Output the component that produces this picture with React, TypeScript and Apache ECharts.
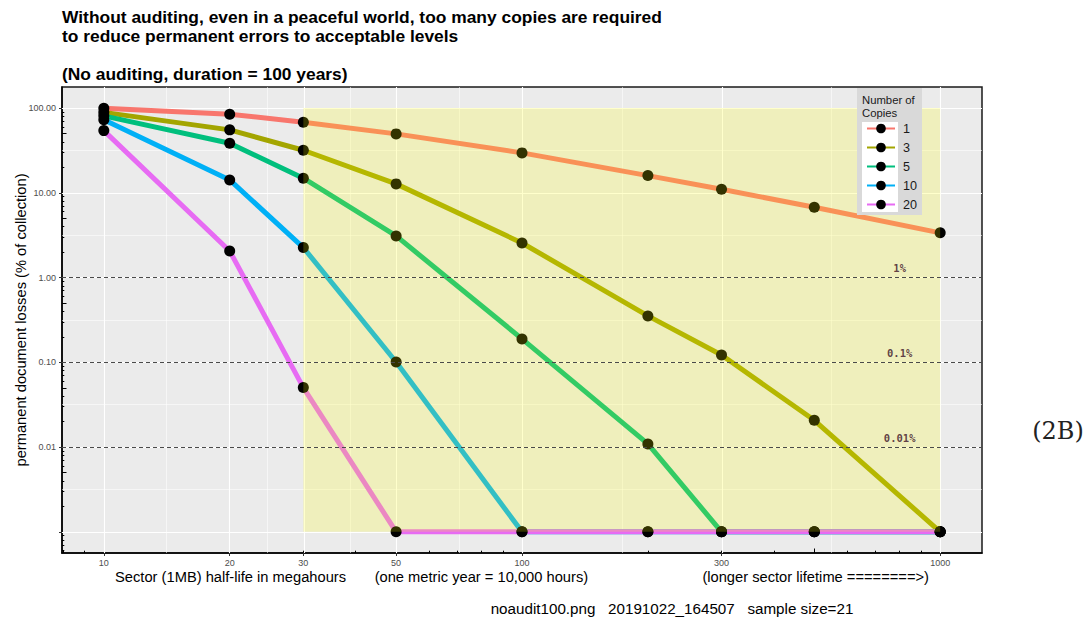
import React, { useEffect, useRef } from 'react';
import * as echarts from 'echarts';

// Sector half-life (megahours) and permanent losses (% of collection) per copy count
const halfLives = [10, 20, 30, 50, 100, 200, 300, 500, 1000];
const copyCounts = ['1', '3', '5', '10', '20'];
const lossCopies1 = [99.7, 84.7, 68.2, 49.6, 29.6, 15.97, 11.0, 6.77, 3.37];
const lossCopies3 = [89, 55.3, 31.8, 12.75, 2.56, 0.353, 0.122, 0.0207, 0.001];
const lossCopies5 = [81, 38.5, 14.9, 3.1, 0.189, 0.0109, 0.001, 0.001, 0.001];
const lossCopies10 = [72.6, 14.2, 2.26, 0.101, 0.001, 0.001, 0.001, 0.001, 0.001];
const lossCopies20 = [54.2, 2.06, 0.0503, 0.001, 0.001, 0.001, 0.001, 0.001, 0.001];
const copyColors = ['#F8766D', '#A3A500', '#00BF7D', '#00B0F6', '#E76BF3'];

// Axis breaks and labels
const xBreaks = [10, 20, 30, 50, 100, 300, 1000];
const yBreaks = [0.001, 0.01, 0.1, 1, 10, 100];
const yBreakLabels = ['', '0.01', '0.10', '1.00', '10.00', '100.00'];

// Reference levels and the shaded region
const thresholds = [1, 0.1, 0.01];
const thresholdLabels = ['1%', '0.1%', '0.01%'];
const thresholdLabelAt = 800;
const shadedHalfLife = [30, 1000];
const shadedLoss = [0.001, 100];

const lossSeries = [lossCopies1, lossCopies3, lossCopies5, lossCopies10, lossCopies20];

const FONT = '"Liberation Sans", Arial, sans-serif';
const lg = (v: number) => Math.log10(v);

function expandLog(values: number[], mult = 0.05): [number, number] {
  const logs = values.map(lg);
  const lo = Math.min(...logs);
  const hi = Math.max(...logs);
  const pad = (hi - lo) * mult;
  return [lo - pad, hi + pad];
}

function logTicks(lim: [number, number], mults: number[]) {
  const out: number[] = [];
  for (let d = Math.floor(lim[0]); d <= Math.ceil(lim[1]); d++) {
    for (const m of mults) {
      const v = d + lg(m);
      if (v >= lim[0] - 1e-9 && v <= lim[1] + 1e-9) out.push(v);
    }
  }
  return out;
}

function midpoints(breaks: number[]) {
  const logs = breaks.map(lg);
  const out: number[] = [];
  for (let i = 0; i < logs.length - 1; i++) out.push((logs[i] + logs[i + 1]) / 2);
  return out;
}

const xLim = expandLog(halfLives);
const yLim = expandLog(lossSeries.flat());

function tickAxis(kind: 'x' | 'y', lim: [number, number], values: number[], length: number) {
  return {
    type: 'value',
    gridIndex: 0,
    position: kind === 'x' ? 'bottom' : 'left',
    min: lim[0],
    max: lim[1],
    axisLine: { show: false, onZero: false },
    axisLabel: { show: false },
    splitLine: { show: false },
    axisTick: {
      show: true,
      inside: true,
      customValues: values,
      length,
      lineStyle: { color: '#000', width: 1 },
    },
  };
}

function buildOption() {
  const gridLines: any[] = [];
  xBreaks.forEach((b) => gridLines.push({ xAxis: lg(b), lineStyle: { color: '#fff', width: 1.1, type: 'solid' } }));
  midpoints(xBreaks).forEach((v) => gridLines.push({ xAxis: v, lineStyle: { color: '#fff', width: 0.55, type: 'solid' } }));
  yBreaks.forEach((b) => gridLines.push({ yAxis: lg(b), lineStyle: { color: '#fff', width: 1.1, type: 'solid' } }));
  midpoints(yBreaks).forEach((v) => gridLines.push({ yAxis: v, lineStyle: { color: '#fff', width: 0.55, type: 'solid' } }));

  const series: any[] = [
    {
      name: 'panel-grid',
      type: 'line',
      data: [],
      silent: true,
      markLine: { silent: true, symbol: ['none', 'none'], z: 1, label: { show: false }, data: gridLines },
    },
  ];

  lossSeries.forEach((vals, i) => {
    series.push({
      name: copyCounts[i],
      type: 'line',
      z: 2,
      symbol: 'none',
      silent: true,
      data: halfLives.map((h, j) => [lg(h), lg(vals[j])]),
      lineStyle: { color: copyColors[i], width: 5, cap: 'butt', join: 'round' },
      itemStyle: { color: '#000' },
    });
  });

  lossSeries.forEach((vals, i) => {
    series.push({
      name: copyCounts[i],
      type: 'scatter',
      z: 3,
      symbol: 'circle',
      symbolSize: 11,
      silent: true,
      data: halfLives.map((h, j) => [lg(h), lg(vals[j])]),
      itemStyle: { color: '#000', opacity: 1 },
    });
  });

  series.push({
    name: 'overlay',
    type: 'line',
    data: [],
    silent: true,
    markArea: {
      silent: true,
      z: 4,
      itemStyle: { color: 'rgba(255,255,0,0.2)' },
      data: [
        [
          { xAxis: lg(shadedHalfLife[0]), yAxis: lg(shadedLoss[1]) },
          { xAxis: lg(shadedHalfLife[1]), yAxis: lg(shadedLoss[0]) },
        ],
      ],
    },
    markLine: {
      silent: true,
      z: 5,
      symbol: ['none', 'none'],
      label: { show: false },
      data: thresholds.map((t) => ({ yAxis: lg(t), lineStyle: { color: '#4a4a4a', width: 1, type: [4, 3] } })),
    },
  });

  series.push({
    name: 'threshold-labels',
    type: 'scatter',
    z: 6,
    symbolSize: 0,
    silent: true,
    data: thresholds.map((t, i) => ({
      value: [lg(thresholdLabelAt), lg(t)],
      label: { formatter: thresholdLabels[i] },
    })),
    label: {
      show: true,
      position: 'top',
      distance: 4,
      fontFamily: '"DejaVu Sans Mono", monospace',
      fontSize: 10.5,
      fontWeight: 'bold',
      color: '#3a1026',
    },
  });

  return {
    animation: false,
    backgroundColor: '#fff',
    title: {
      left: 62,
      top: 7.5,
      padding: 0,
      text:
        'Without auditing, even in a peaceful world, too many copies are required\nto reduce permanent errors to acceptable levels\n\n(No auditing, duration = 100 years)',
      textStyle: { fontFamily: FONT, fontSize: 17.4, fontWeight: 'bold', color: '#000', lineHeight: 19 },
    },
    grid: {
      left: 62,
      right: 109,
      top: 87,
      bottom: 66,
      outerBoundsMode: 'none',
      show: true,
      backgroundColor: '#EBEBEB',
      borderColor: '#1a1a1a',
      borderWidth: 1.5,
    },
    legend: {
      orient: 'vertical',
      left: 866,
      top: 122,
      padding: 0,
      itemWidth: 28,
      itemHeight: 12,
      itemGap: 6,
      selectedMode: false,
      z: 10,
      data: copyCounts,
      textStyle: { fontFamily: FONT, fontSize: 12.6, color: '#1a1a1a', padding: [0, 0, 0, 3] },
    },
    xAxis: [
      {
        type: 'value',
        gridIndex: 0,
        position: 'bottom',
        min: xLim[0],
        max: xLim[1],
        name:
          'Sector (1MB) half-life in megahours\u00A0\u00A0\u00A0\u00A0\u00A0\u00A0\u00A0(one metric year = 10,000 hours)' +
          '\u00A0'.repeat(28) +
          '(longer sector lifetime ========>)',
        nameLocation: 'middle',
        nameGap: 16,
        nameMoveOverlap: false,
        nameTextStyle: { fontFamily: FONT, fontSize: 14.7, color: '#000' },
        axisLine: { show: true, onZero: false, lineStyle: { color: '#000', width: 1.5 } },
        axisTick: { show: true, customValues: xBreaks.map(lg), length: 3, lineStyle: { color: '#333', width: 1 } },
        axisLabel: {
          customValues: xBreaks.map(lg),
          formatter: (v: number) => String(Math.round(Math.pow(10, v))),
          fontFamily: FONT,
          fontSize: 9,
          color: '#4D4D4D',
          margin: 5,
        },
        splitLine: { show: false },
      },
      tickAxis('x', xLim, logTicks(xLim, [1]), 7),
      tickAxis('x', xLim, logTicks(xLim, [5]), 4.5),
      tickAxis('x', xLim, logTicks(xLim, [2, 3, 4, 6, 7, 8, 9]), 2.3),
    ],
    yAxis: [
      {
        type: 'value',
        gridIndex: 0,
        position: 'left',
        min: yLim[0],
        max: yLim[1],
        name: 'permanent document losses (% of collection)',
        nameLocation: 'middle',
        nameRotate: 90,
        nameGap: 34,
        nameMoveOverlap: false,
        nameTextStyle: { fontFamily: FONT, fontSize: 14.7, color: '#000' },
        axisLine: { show: true, onZero: false, lineStyle: { color: '#000', width: 1.5 } },
        axisTick: { show: true, customValues: yBreaks.map(lg), length: 3, lineStyle: { color: '#333', width: 1 } },
        axisLabel: {
          customValues: yBreaks.map(lg),
          formatter: (v: number) => {
            const idx = yBreaks.findIndex((b) => Math.abs(lg(b) - v) < 1e-6);
            return idx >= 0 ? yBreakLabels[idx] : '';
          },
          fontFamily: FONT,
          fontSize: 9,
          color: '#4D4D4D',
          margin: 6,
        },
        splitLine: { show: false },
      },
      tickAxis('y', yLim, logTicks(yLim, [1]), 7),
      tickAxis('y', yLim, logTicks(yLim, [5]), 4.5),
      tickAxis('y', yLim, logTicks(yLim, [2, 3, 4, 6, 7, 8, 9]), 2.3),
    ],
    graphic: [
      { type: 'rect', z: 9, shape: { x: 857, y: 88, width: 65, height: 127 }, style: { fill: '#D9D9D9' }, silent: true },
      { type: 'rect', z: 9, shape: { x: 862, y: 122, width: 36, height: 90 }, style: { fill: '#fff' }, silent: true },
      {
        type: 'text',
        z: 10,
        left: 862,
        top: 93,
        silent: true,
        style: { text: 'Number of\nCopies', fontFamily: FONT, fontSize: 11.3, lineHeight: 13, fill: '#1a1a1a' },
      },
      {
        type: 'text',
        z: 10,
        x: 672,
        y: 608,
        silent: true,
        style: {
          text: 'noaudit100.png\u00A0\u00A0\u00A020191022_164507\u00A0\u00A0\u00A0sample size=21',
          fontFamily: FONT,
          fontSize: 15.2,
          fill: '#000',
          textAlign: 'center',
          textVerticalAlign: 'middle',
        },
      },
      {
        type: 'text',
        z: 10,
        x: 1058,
        y: 431,
        silent: true,
        style: {
          text: '(2B)',
          fontFamily: '"DejaVu Serif", serif',
          fontSize: 24,
          fill: '#222',
          textAlign: 'center',
          textVerticalAlign: 'middle',
        },
      },
    ],
    series,
  };
}

export default function App() {
  const ref = useRef<HTMLDivElement>(null);
  useEffect(() => {
    if (!ref.current) return;
    const chart = echarts.init(ref.current, null, { renderer: 'svg' });
    chart.setOption(buildOption() as any);
    return () => chart.dispose();
  }, []);
  return (
    <div
      ref={ref}
      style={{ position: 'absolute', left: 0, top: 0, width: 1091, height: 619, background: '#fff' }}
    />
  );
}
